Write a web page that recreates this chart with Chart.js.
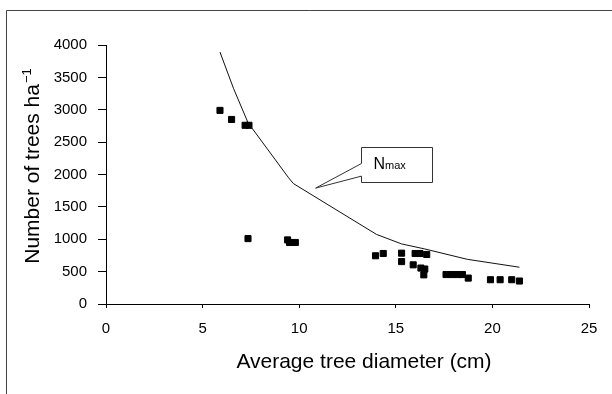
<!DOCTYPE html>
<html>
<head>
<meta charset="utf-8">
<script src="https://cdn.jsdelivr.net/npm/chart.js@4.4.1/dist/chart.umd.min.js"></script>
<style>
  body { margin: 0; background: #fff; }
  canvas { display: block; }
</style>
</head>
<body>
<canvas id="my-chart" width="612" height="394"></canvas>
<script>
// dati
const diametri = [5.9, 6.5, 7.2, 7.4, 7.35, 9.4, 9.5, 9.8, 13.95, 14.35, 15.3, 15.3, 15.9, 16.0, 16.25, 16.6, 16.3, 16.5, 16.45, 17.6, 17.9, 18.2, 18.45, 18.75, 19.9, 20.4, 21.0, 21.4];
const alberi = [2990, 2850, 2760, 2760, 1010, 990, 950, 950, 745, 780, 785, 655, 605, 780, 780, 765, 555, 540, 450, 455, 455, 455, 455, 400, 375, 375, 375, 355];

// curva Nmax
const nmaxDiametri = [5.9, 6.6, 7.35, 9.45, 9.7, 14.0, 15.3, 16.5, 18.7, 21.4];
const nmaxAlberi = [3890, 3330, 2800, 1950, 1860, 1075, 928, 850, 690, 568];

const xTicks = [0, 5, 10, 15, 20, 25];
const yTicks = [0, 500, 1000, 1500, 2000, 2500, 3000, 3500, 4000];

// etichetta Nmax (unita dei dati)
const calloutBox = [13.2, 16.85, 2430, 1885];
const calloutWedge = [2170, 1975];
const calloutTip = [10.85, 1790];

const FONT = "'Liberation Sans', Arial, sans-serif";

const punti = diametri.map((d, i) => ({ x: d, y: alberi[i] }));
const curva = nmaxDiametri.map((d, i) => ({ x: d, y: nmaxAlberi[i] }));

/* cornice e titoli degli assi */
const decorPlugin = {
    id: 'decor',
    beforeDraw(chart) {
        const ctx = chart.ctx;
        ctx.save();
        ctx.fillStyle = '#fff';
        ctx.fillRect(0, 0, chart.width, chart.height);
        ctx.strokeStyle = '#444';
        ctx.lineWidth = 1;
        ctx.beginPath();
        ctx.moveTo(6.5, chart.height);
        ctx.lineTo(6.5, 10.5);
        ctx.lineTo(chart.width, 10.5);
        ctx.stroke();
        ctx.restore();
    },
    afterDraw(chart) {
        const ctx = chart.ctx;
        ctx.save();
        ctx.fillStyle = '#000';
        ctx.textBaseline = 'middle';

        // titolo asse x
        ctx.font = '21px ' + FONT;
        ctx.textAlign = 'center';
        ctx.fillText('Average tree diameter (cm)', 364, 362);

        // titolo asse y con apice
        ctx.translate(33, 166);
        ctx.rotate(-Math.PI / 2);
        ctx.textAlign = 'left';
        const main = 'Number of trees ha';
        const sup = '\u22121';
        ctx.font = '21px ' + FONT;
        const w1 = ctx.measureText(main).width;
        ctx.font = '13px ' + FONT;
        const w2 = ctx.measureText(sup).width;
        const start = -(w1 + w2 + 1) / 2;
        ctx.font = '21px ' + FONT;
        ctx.fillText(main, start, 0);
        ctx.font = '13px ' + FONT;
        ctx.fillText(sup, start + w1 + 1, -6);
        ctx.restore();
    }
};

/* riquadro Nmax con freccia */
const calloutPlugin = {
    id: 'callout',
    afterDatasetsDraw(chart) {
        const { ctx, scales: { x, y } } = chart;
        const l = Math.round(x.getPixelForValue(calloutBox[0])) + 0.5;
        const r = Math.round(x.getPixelForValue(calloutBox[1])) + 0.5;
        const t = Math.round(y.getPixelForValue(calloutBox[2])) + 0.5;
        const b = Math.round(y.getPixelForValue(calloutBox[3])) + 0.5;
        const wa = y.getPixelForValue(calloutWedge[0]);
        const wb = y.getPixelForValue(calloutWedge[1]);
        const tx = x.getPixelForValue(calloutTip[0]);
        const ty = y.getPixelForValue(calloutTip[1]);

        ctx.save();
        ctx.beginPath();
        ctx.moveTo(l, t);
        ctx.lineTo(r, t);
        ctx.lineTo(r, b);
        ctx.lineTo(l, b);
        ctx.lineTo(l, wb);
        ctx.lineTo(tx, ty);
        ctx.lineTo(l, wa);
        ctx.closePath();
        ctx.fillStyle = '#fff';
        ctx.fill();
        ctx.strokeStyle = '#333';
        ctx.lineWidth = 1;
        ctx.stroke();

        const mid = (t + b) / 2;
        ctx.fillStyle = '#000';
        ctx.textBaseline = 'alphabetic';
        ctx.textAlign = 'left';
        ctx.font = '16px ' + FONT;
        ctx.fillText('N', l + 12, mid + 3.5);
        const wN = ctx.measureText('N').width;
        ctx.font = '11px ' + FONT;
        ctx.fillText('max', l + 12 + wN, mid + 4);
        ctx.restore();
    }
};

const data = {
    datasets: [
        {
            label: 'Nmax',
            data: curva,
            showLine: true,
            borderColor: '#111',
            borderWidth: 1,
            pointRadius: 0,
            tension: 0,
            fill: false
        },
        {
            label: 'Stands',
            data: punti,
            pointStyle: 'rect',
            pointRadius: 4.3,
            backgroundColor: '#000',
            borderColor: '#000',
            borderWidth: 1,
            showLine: false
        }
    ]
};

const config = {
    type: 'scatter',
    data: data,
    options: {
        responsive: false,
        animation: false,
        devicePixelRatio: 1,
        layout: {
            padding: { top: 45, right: 23, left: 0, bottom: 0 }
        },
        plugins: {
            legend: { display: false },
            tooltip: { enabled: false }
        },
        scales: {
            x: {
                type: 'linear',
                min: 0,
                max: 25,
                afterBuildTicks: s => { s.ticks = xTicks.map(v => ({ value: v })); },
                afterFit: s => { s.height = 90; },
                ticks: {
                    color: '#000',
                    font: { family: FONT, size: 15 },
                    padding: 12,
                    maxRotation: 0,
                    callback: v => String(v)
                },
                grid: {
                    drawOnChartArea: false,
                    drawTicks: true,
                    tickLength: 4,
                    color: '#000'
                },
                border: { color: '#000', width: 1 }
            },
            y: {
                type: 'linear',
                min: 0,
                max: 4000,
                afterBuildTicks: s => { s.ticks = yTicks.map(v => ({ value: v })); },
                afterFit: s => { s.width = 106; },
                ticks: {
                    color: '#000',
                    font: { family: FONT, size: 15 },
                    padding: 11,
                    callback: v => String(v)
                },
                grid: {
                    drawOnChartArea: false,
                    drawTicks: true,
                    tickLength: 8,
                    color: '#000'
                },
                border: { color: '#000', width: 1 }
            }
        }
    },
    plugins: [decorPlugin, calloutPlugin]
};

const ctx = document.getElementById('my-chart');
const myChart = new Chart(ctx, config);
</script>
</body>
</html>
